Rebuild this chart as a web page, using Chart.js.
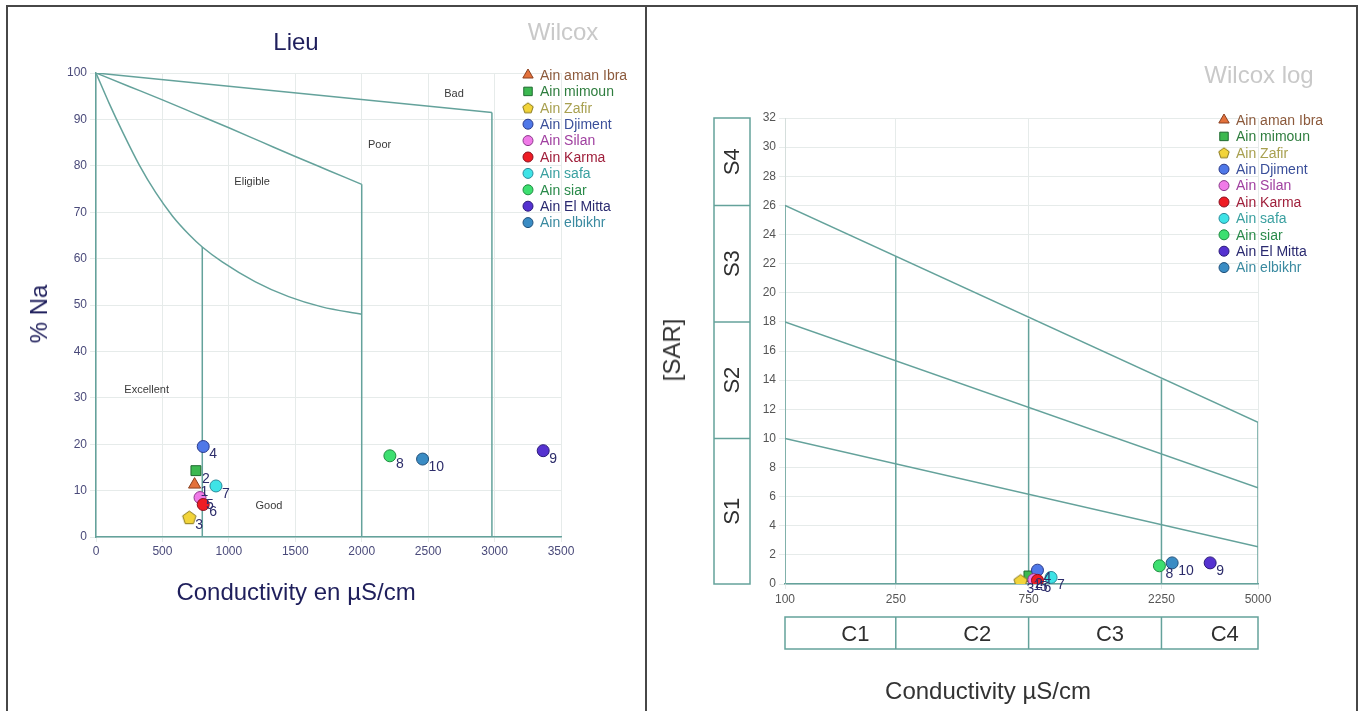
<!DOCTYPE html>
<html>
<head>
<meta charset="utf-8">
<title>Wilcox</title>
<script src="https://cdn.jsdelivr.net/npm/chart.js@4.4.1/dist/chart.umd.min.js"></script>
<style>
    body { margin: 0; background: #fff; width: 1361px; height: 711px; overflow: hidden;
           font-family: "Liberation Sans", Arial, sans-serif; position: relative; }
    #frame { position: absolute; left: 6px; top: 5px; width: 1352px; height: 720px;
             border: 2px solid #474747; box-sizing: border-box; }
    #divider { position: absolute; left: 645px; top: 5px; width: 2px; height: 710px; background: #474747; }
    .panel { position: absolute; top: 0; }
    .txt { position: absolute; white-space: nowrap; transform: translate(-50%, -50%); line-height: 1; }
    .rot { transform: translate(-50%, -50%) rotate(-90deg); }
</style>
</head>
<body>
<div id="frame"></div>
<div id="divider"></div>
<canvas id="wilcoxChart" class="panel" style="left:0" width="645" height="711"></canvas>
<canvas id="wilcoxLogChart" class="panel" style="left:647px" width="714" height="711"></canvas>

<div class="txt" style="left:296px;top:42px;font-size:24px;color:#1f1f5c">Lieu</div>
<div class="txt" style="left:563px;top:32px;font-size:24px;color:#c9c9c9">Wilcox</div>
<div class="txt rot" style="left:39px;top:314px;font-size:24px;color:#1f1f5c">% Na</div>
<div class="txt" style="left:296px;top:592px;font-size:24px;color:#1f1f5c">Conductivity en µS/cm</div>

<div class="txt" style="left:1259px;top:75px;font-size:24px;color:#c9c9c9">Wilcox log</div>
<div class="txt rot" style="left:672px;top:350px;font-size:24px;color:#333">[SAR]</div>
<div class="txt" style="left:988px;top:691px;font-size:24px;color:#333">Conductivity µS/cm</div>

<script>
// sampling sites (legend order) and the number written next to each point
const sites = ['Ain aman Ibra', 'Ain mimoun', 'Ain Zafir', 'Ain Djiment', 'Ain Silan',
               'Ain Karma', 'Ain safa', 'Ain siar', 'Ain El Mitta', 'Ain elbikhr'];
const siteNumbers = ['1', '2', '3', '4', '5', '6', '7', '8', '9', '10'];

// measured values
const conductivity = [742, 752, 702, 807, 783, 807, 903, 2212, 3366, 2458];   // µS/cm
const sodiumPct = [11.3, 14.3, 4.2, 19.5, 8.5, 7.0, 11.0, 17.5, 18.6, 16.8];   // % Na
const sarValues = [0.4, 0.55, 0.2, 0.95, 0.3, 0.25, 0.45, 1.25, 1.45, 1.45];   // SAR

// marker look per site
const fillColors = ['#e3713b', '#3cb850', '#f2d43a', '#4f78e8', '#f07ae8',
                    '#ee1c24', '#3ee3e6', '#3ddf70', '#5532d0', '#3a8cc4'];
const edgeColors = ['#8a4020', '#1f6a30', '#8a7a20', '#2a3a8a', '#8a3a8a',
                    '#8a1020', '#2a8a9a', '#1f8a40', '#2a1a7a', '#20507a'];
const textColors = ['#8c5a3c', '#2e7d3e', '#a8a050', '#3a4f9a', '#a040a0',
                    '#a0203c', '#3aa0a0', '#2a8a4a', '#2a2a70', '#3a8aa0'];
const markerShapes = ['triangle', 'rect', 'pentagon', 'circle', 'circle',
                      'circle', 'circle', 'circle', 'circle', 'circle'];

// Wilcox (% Na) class limits
const badLimitX = [0, 2980];
const badLimitY = [100, 91.5];
const poorLimitX = [0, 250, 500, 750, 1000, 1250, 1500, 1750, 2000];
const poorLimitY = [100, 97.1, 94.2, 91.2, 88.2, 85.1, 82.0, 79.0, 76];
const eligibleLimitX = [0, 100, 200, 325, 450, 575, 700, 800, 950, 1200, 1450, 1700, 2000];
const eligibleLimitY = [100, 93.4, 87.3, 80.2, 74.2, 69.2, 65.2, 62.5, 59.3, 55.0, 51.8, 49.6, 48];
const verticalLimitX = [800, 2000, 2980];
const verticalLimitTop = [62.5, 76, 91.5];

// Wilcox log (SAR) class limits
const sodiumClasses = ['S1', 'S2', 'S3', 'S4'];
const sodiumEdges = [0, 10, 18, 26, 32];
const salinityClasses = ['C1', 'C2', 'C3', 'C4'];
const salinityEdges = [100, 250, 750, 2250, 5000];
const salinityTops = [26, 22.5, 18.2, 14.05, 11.1];
const sarLimitStart = [10, 18, 26];     // at 100 µS/cm
const sarLimitEnd = [2.55, 6.6, 11.1];  // at 5000 µS/cm

const TEAL = '#64a29b';
const GRID = '#e6ebea';
const FONT = '"Liberation Sans", Arial, sans-serif';

function pentagon(fill, stroke, r) {
    const c = document.createElement('canvas');
    const s = Math.ceil(r * 2 + 3);
    c.width = s;
    c.height = s;
    const g = c.getContext('2d');
    g.beginPath();
    for (let k = 0; k < 5; k++) {
        const a = -Math.PI / 2 + k * 2 * Math.PI / 5;
        g.lineTo(s / 2 + r * Math.cos(a), s / 2 + 0.5 + r * Math.sin(a));
    }
    g.closePath();
    g.fillStyle = fill;
    g.fill();
    g.strokeStyle = stroke;
    g.lineWidth = 1;
    g.stroke();
    return c;
}

function markerStyle(i, r) {
    return markerShapes[i] === 'pentagon' ? pentagon(fillColors[i], edgeColors[i], r) : markerShapes[i];
}

function markerRadius(i, base) {
    if (markerShapes[i] === 'rect') return base + 1;
    if (markerShapes[i] === 'triangle') return base + 1;
    return base;
}

function siteDatasets(yValues) {
    return sites.map((name, i) => ({
        label: name,
        siteIndex: i,
        data: [{ x: conductivity[i], y: yValues[i] }],
        pointStyle: markerStyle(i, 7),
        pointRadius: markerRadius(i, 6),
        pointBackgroundColor: fillColors[i],
        pointBorderColor: edgeColors[i],
        pointBorderWidth: 1,
        order: -i
    }));
}

function limitLine(xs, ys, curved) {
    return {
        data: xs.map((x, k) => ({ x: x, y: ys[k] })),
        showLine: true,
        borderColor: TEAL,
        borderWidth: 1.5,
        pointRadius: 0,
        tension: curved ? 0.4 : 0,
        cubicInterpolationMode: curved ? 'monotone' : 'default',
        order: 100
    };
}

// legend drawn with the chart's own point renderer
function siteLegend(left, top, step, fontSize) {
    return {
        id: 'siteLegend',
        afterDraw(chart) {
            const ctx = chart.ctx;
            ctx.save();
            ctx.font = fontSize + 'px ' + FONT;
            ctx.textBaseline = 'middle';
            sites.forEach((name, i) => {
                const y = top + i * step;
                ctx.fillStyle = fillColors[i];
                ctx.strokeStyle = edgeColors[i];
                ctx.lineWidth = 1;
                Chart.helpers.drawPoint(ctx, {
                    pointStyle: markerStyle(i, 5.5),
                    radius: markerRadius(i, 5),
                    borderWidth: 1,
                    rotation: 0
                }, left, y);
                ctx.fillStyle = textColors[i];
                ctx.fillText(name, left + 12, y + 1);
            });
            ctx.restore();
        }
    };
}

const pointNumbers = {
    id: 'pointNumbers',
    afterDatasetsDraw(chart) {
        const ctx = chart.ctx;
        ctx.save();
        ctx.font = '14px ' + FONT;
        ctx.fillStyle = '#2c2c6a';
        ctx.textAlign = 'left';
        ctx.textBaseline = 'middle';
        chart.data.datasets.forEach((ds, i) => {
            if (ds.siteIndex === undefined) return;
            const el = chart.getDatasetMeta(i).data[0];
            ctx.fillText(siteNumbers[ds.siteIndex], el.x + 6, el.y + 8);
        });
        ctx.restore();
    }
};

const zoneLabels = {
    id: 'zoneLabels',
    afterDatasetsDraw(chart) {
        const { ctx, scales: { x, y } } = chart;
        const zones = [
            ['Excellent', 381, 31.7], ['Good', 1302, 6.6], ['Eligible', 1175, 76.5],
            ['Poor', 2135, 84.5], ['Bad', 2695, 95.5]
        ];
        ctx.save();
        ctx.font = '11px ' + FONT;
        ctx.fillStyle = '#3a3a3a';
        ctx.textAlign = 'center';
        ctx.textBaseline = 'middle';
        zones.forEach(z => ctx.fillText(z[0], x.getPixelForValue(z[1]), y.getPixelForValue(z[2])));
        ctx.restore();
    }
};

const classBoxes = {
    id: 'classBoxes',
    afterDraw(chart) {
        const { ctx, chartArea, scales: { x, y } } = chart;
        ctx.save();
        ctx.strokeStyle = TEAL;
        ctx.lineWidth = 1.5;
        ctx.fillStyle = '#2f2f2f';
        ctx.font = '22px ' + FONT;
        ctx.textAlign = 'center';
        ctx.textBaseline = 'middle';
        // sodium hazard boxes along the left
        const bl = chartArea.left - 71, br = chartArea.left - 35;
        ctx.strokeRect(bl, y.getPixelForValue(32), br - bl, y.getPixelForValue(0) - y.getPixelForValue(32));
        sodiumClasses.forEach((name, k) => {
            const yTop = y.getPixelForValue(sodiumEdges[k + 1]);
            const yBot = y.getPixelForValue(sodiumEdges[k]);
            if (k > 0) {
                ctx.beginPath();
                ctx.moveTo(bl, yBot);
                ctx.lineTo(br, yBot);
                ctx.stroke();
            }
            ctx.save();
            ctx.translate((bl + br) / 2, (yTop + yBot) / 2);
            ctx.rotate(-Math.PI / 2);
            ctx.fillText(name, 0, 1);
            ctx.restore();
        });
        // salinity hazard boxes under the axis
        const bt = chartArea.bottom + 33, bb = chartArea.bottom + 65;
        const xl = x.getPixelForValue(salinityEdges[0]);
        const xr = x.getPixelForValue(salinityEdges[4]);
        ctx.strokeRect(xl, bt, xr - xl, bb - bt);
        salinityClasses.forEach((name, k) => {
            const a = x.getPixelForValue(salinityEdges[k]);
            const b = x.getPixelForValue(salinityEdges[k + 1]);
            if (k > 0) {
                ctx.beginPath();
                ctx.moveTo(a, bt);
                ctx.lineTo(a, bb);
                ctx.stroke();
            }
            ctx.fillText(name, (a + b) / 2 + 15, (bt + bb) / 2 + 2);
        });
        ctx.restore();
    }
};

Chart.defaults.font.family = FONT;
Chart.defaults.animation = false;

// Wilcox diagram (% Na vs conductivity)
const wilcoxSets = [
    limitLine(badLimitX, badLimitY, false),
    limitLine(poorLimitX, poorLimitY, true),
    limitLine(eligibleLimitX, eligibleLimitY, true)
];
verticalLimitX.forEach((vx, k) => wilcoxSets.push(limitLine([vx, vx], [verticalLimitTop[k], 0], false)));

new Chart(document.getElementById('wilcoxChart'), {
    type: 'scatter',
    data: { datasets: wilcoxSets.concat(siteDatasets(sodiumPct)) },
    options: {
        responsive: false,
        layout: { padding: { top: 73, right: 84, left: 0, bottom: 0 } },
        plugins: { legend: { display: false }, tooltip: { enabled: false } },
        events: [],
        scales: {
            x: {
                type: 'linear', min: 0, max: 3500,
                ticks: { stepSize: 500, color: '#4a4a7a', font: { size: 12 }, padding: 2, callback: v => String(v) },
                grid: { color: GRID, tickLength: 5 },
                border: { color: TEAL, width: 1.5 },
                afterFit(scale) { scale.height = 174; }
            },
            y: {
                type: 'linear', min: 0, max: 100,
                ticks: { stepSize: 10, color: '#4a4a7a', font: { size: 12 }, padding: 3 },
                grid: { color: GRID, tickLength: 6 },
                border: { color: TEAL, width: 1.5 },
                afterFit(scale) { scale.width = 96; }
            }
        }
    },
    plugins: [zoneLabels, pointNumbers, siteLegend(528, 75, 16.4, 14)]
});

// Wilcox log diagram (SAR vs conductivity)
const logSets = [];
sarLimitStart.forEach((s, k) => logSets.push(limitLine([salinityEdges[0], salinityEdges[4]], [s, sarLimitEnd[k]], false)));
salinityEdges.forEach((ex, k) => logSets.push(limitLine([ex, ex], [0, salinityTops[k]], false)));

new Chart(document.getElementById('wilcoxLogChart'), {
    type: 'scatter',
    data: { datasets: logSets.concat(siteDatasets(sarValues)) },
    options: {
        responsive: false,
        layout: { padding: { top: 118, right: 103, left: 0, bottom: 0 } },
        plugins: { legend: { display: false }, tooltip: { enabled: false } },
        events: [],
        scales: {
            x: {
                type: 'logarithmic', min: 100, max: 5000,
                afterBuildTicks(axis) { axis.ticks = salinityEdges.map(v => ({ value: v })); },
                ticks: { color: '#555', font: { size: 12 }, padding: 3, callback: v => String(v) },
                grid: { color: GRID, tickLength: 5 },
                border: { color: TEAL, width: 1.5 },
                afterFit(scale) { scale.height = 127; }
            },
            y: {
                type: 'linear', min: 0, max: 32,
                ticks: { stepSize: 2, color: '#555', font: { size: 12 }, padding: 3 },
                grid: { color: GRID, tickLength: 6 },
                border: { color: '#d5dedc' },
                afterFit(scale) { scale.width = 138; }
            }
        }
    },
    plugins: [classBoxes, pointNumbers, siteLegend(577, 120, 16.4, 14)]
});
</script>
</body>
</html>
